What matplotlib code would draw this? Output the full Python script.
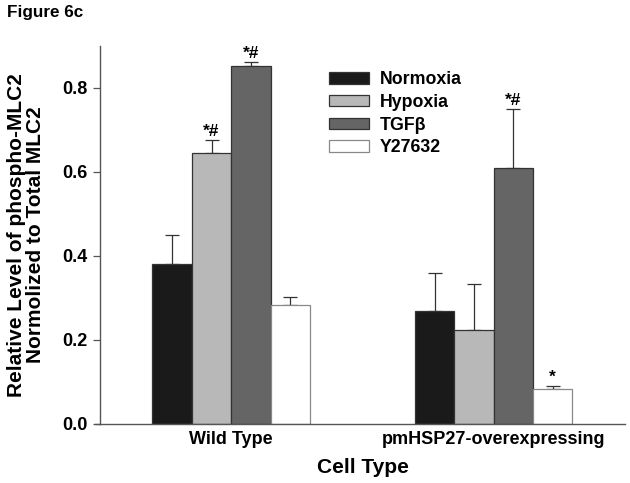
import matplotlib
matplotlib.use("Agg")
import matplotlib.pyplot as plt
import numpy as np

plt.rcParams['font.family'] = ['Liberation Sans', 'DejaVu Sans']
plt.rcParams['font.weight'] = 'bold'

groups = ["Wild Type", "pmHSP27-overexpressing"]
series = ["Normoxia", "Hypoxia", "TGF\u03b2", "Y27632"]
values = {
    "Normoxia": [0.381, 0.269],
    "Hypoxia": [0.646, 0.223],
    "TGF\u03b2": [0.853, 0.610],
    "Y27632": [0.284, 0.083],
}
errors = {
    "Normoxia": [0.069, 0.090],
    "Hypoxia": [0.030, 0.111],
    "TGF\u03b2": [0.010, 0.141],
    "Y27632": [0.019, 0.008],
}
marks = {
    "Normoxia": ["", ""],
    "Hypoxia": ["*#", ""],
    "TGF\u03b2": ["*#", "*#"],
    "Y27632": ["", "*"],
}
colors = ["#1a1a1a", "#b8b8b8", "#656565", "#ffffff"]
edges = ["#333333", "#333333", "#333333", "#888888"]

fig = plt.figure(figsize=(6.3, 4.83), dpi=100)
ax = fig.add_axes([0.1587, 0.1222, 0.8333, 0.7826])

x = np.arange(1, len(groups) + 1)
w = 0.15
for i, s in enumerate(series):
    pos = x + (i - 1.5) * w
    ax.bar(pos, values[s], width=w, color=colors[i], edgecolor=edges[i],
           linewidth=0.9, label=s, zorder=2)
    ax.errorbar(pos, values[s], yerr=[np.zeros(len(groups)), errors[s]],
                fmt="none", ecolor="#333333", elinewidth=0.9, capsize=5,
                capthick=0.9, zorder=1)
    for p, v, e, m in zip(pos, values[s], errors[s], marks[s]):
        if m:
            ax.text(p, v + e + 0.009, m, ha="center", va="baseline",
                    fontsize=12.5, fontweight="bold")

ax.set_xlim(0.5, 2.5)
ax.set_ylim(0, 0.9)
ax.set_yticks([0.0, 0.2, 0.4, 0.6, 0.8])
ax.set_yticklabels(["0.0", "0.2", "0.4", "0.6", "0.8"])
ax.set_xticks(x)
ax.set_xticklabels(groups)
ax.tick_params(axis="x", length=0, labelsize=13, pad=5)
ax.tick_params(axis="y", length=5, width=0.9, color="#555555", labelsize=13, pad=4)
for sp in ["top", "right"]:
    ax.spines[sp].set_visible(False)
for sp in ["left", "bottom"]:
    ax.spines[sp].set_color("#555555")
    ax.spines[sp].set_linewidth(1.0)
ax.plot([-0.01, 0], [0, 0], transform=ax.transAxes, color="#555555",
        linewidth=1.0, clip_on=False)

ax.set_ylabel("Relative Level of phospho-MLC2\nNormolized to Total MLC2",
              fontsize=15, fontweight="bold", labelpad=12, linespacing=1.05)
ax.set_xlabel("Cell Type", fontsize=15, fontweight="bold", labelpad=7)

leg = ax.legend(loc="upper left", bbox_to_anchor=(0.423, 0.952), frameon=False,
                fontsize=12.8, handlelength=2.25, handleheight=0.6,
                handletextpad=0.62, labelspacing=0.32, borderaxespad=0)
for h, ec in zip(leg.legend_handles, edges):
    h.set_edgecolor(ec)

fig.text(0.011, 0.99, "Figure 6c", fontsize=12.3, fontweight="bold",
         ha="left", va="top")

fig.savefig("out.png", dpi=100)
